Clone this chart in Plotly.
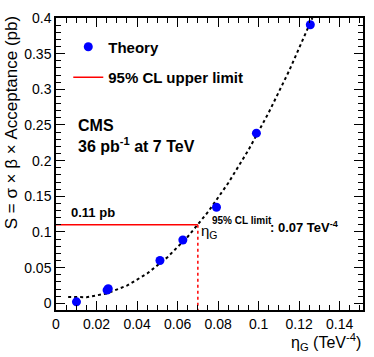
import plotly.graph_objects as go

# Theory points (eta_G in TeV^-4, S in pb)
theory_x = [0.0101, 0.0252, 0.0258, 0.0513, 0.0626, 0.0792, 0.0989, 0.1255]
theory_y = [0.002, 0.0185, 0.0205, 0.060, 0.0887, 0.1347, 0.2385, 0.3905]

# Dotted fit curve
fit_x = [0.006, 0.015, 0.025, 0.035, 0.045, 0.055, 0.065, 0.075, 0.085, 0.095, 0.105, 0.115, 0.1265]
fit_y = [0.0090, 0.0085, 0.0137, 0.0248, 0.0417, 0.0646, 0.0933, 0.1280, 0.1686, 0.2150, 0.2675, 0.3257, 0.4000]

# 95% CL upper limit on S and the matching eta_G limit
limit_s = 0.11
limit_eta = 0.07

x_ticks = [0, 0.02, 0.04, 0.06, 0.08, 0.1, 0.12, 0.14]
y_ticks = [0, 0.05, 0.1, 0.15, 0.2, 0.25, 0.3, 0.35, 0.4]
y_bottom = -0.0094

font = "Liberation Sans, Arial, Helvetica, sans-serif"

fig = go.Figure()

# fit curve
fig.add_trace(go.Scatter(
    x=fit_x, y=fit_y, mode="lines",
    line=dict(color="black", width=2, dash="dot"),
    showlegend=False, hoverinfo="skip",
))

# horizontal limit line (also the legend entry)
fig.add_trace(go.Scatter(
    x=[0, limit_eta], y=[limit_s, limit_s], mode="lines",
    line=dict(color="#ff0000", width=1.5),
    name="<b>95% CL upper limit</b>", legendgroup="b", legendrank=2,
))

# vertical dotted drop to the x axis
fig.add_trace(go.Scatter(
    x=[limit_eta, limit_eta], y=[limit_s, y_bottom], mode="lines",
    line=dict(color="#ff0000", width=1.5, dash="dot"),
    showlegend=False, hoverinfo="skip",
))

# theory markers
fig.add_trace(go.Scatter(
    x=theory_x, y=theory_y, mode="markers",
    marker=dict(color="#0000ff", size=9),
    name="<b>Theory</b>", legendgroup="a", legendrank=1,
))

axis_common = dict(
    showline=True, linecolor="black", linewidth=1.5, mirror="ticks",
    ticks="inside", ticklen=9, tickwidth=1, tickcolor="black",
    showgrid=False, zeroline=False,
    tickfont=dict(family=font, size=14, color="black"),
)

fig.update_xaxes(
    range=[0, 0.1515], tickvals=x_ticks,
    ticktext=[str(v) for v in x_ticks],
    minor=dict(ticks="inside", ticklen=5, dtick=0.005, tick0=0, tickcolor="black"),
    **axis_common,
)
fig.update_yaxes(
    range=[y_bottom, 0.4], tickvals=y_ticks,
    ticktext=[str(v) for v in y_ticks],
    minor=dict(ticks="inside", ticklen=5, dtick=0.01, tick0=0, tickcolor="black"),
    **axis_common,
)

annotations = [
    # y axis title, right-aligned to the top like ROOT
    dict(text="S = σ × β × Acceptance (pb)", xref="paper", yref="paper",
         x=-0.1456, y=1.017, xanchor="center", yanchor="top", textangle=-90,
         showarrow=False, font=dict(family=font, size=17, color="black")),
    # x axis title
    dict(text="η<sub>G</sub> (TeV<sup>-4</sup>)", xref="paper", yref="paper",
         x=1.0, y=-0.065, xanchor="right", yanchor="top",
         showarrow=False, font=dict(family=font, size=16, color="black")),
    dict(text="<b>CMS</b>", xref="paper", yref="paper", x=0.065, y=0.632,
         xanchor="left", yanchor="middle", showarrow=False,
         font=dict(family=font, size=16, color="black")),
    dict(text="<b>36 pb<sup>-1</sup> at 7 TeV</b>", xref="paper", yref="paper",
         x=0.065, y=0.565, xanchor="left", yanchor="middle", showarrow=False,
         font=dict(family=font, size=16, color="black")),
    dict(text="<b>%.2f pb</b>" % limit_s, xref="x", yref="paper",
         x=0.0065, y=0.333, xanchor="left", yanchor="middle", showarrow=False,
         font=dict(family=font, size=13, color="black")),
    dict(text="η<sub>G</sub>", xref="x", yref="paper",
         x=0.0705, y=0.27, xanchor="left", yanchor="middle", showarrow=False,
         font=dict(family=font, size=15, color="black")),
    dict(text="<b>95% CL limit</b>", xref="x", yref="paper",
         x=0.0758, y=0.305, xanchor="left", yanchor="middle", showarrow=False,
         font=dict(family=font, size=10, color="black")),
    dict(text="<b>: %.2f TeV<sup>-4</sup></b>" % limit_eta, xref="x", yref="paper",
         x=0.1045, y=0.285, xanchor="left", yanchor="middle", showarrow=False,
         font=dict(family=font, size=13, color="black")),
]

fig.update_layout(
    width=374, height=357,
    margin=dict(l=56, r=9, t=18, b=47),
    plot_bgcolor="white", paper_bgcolor="white",
    annotations=annotations,
    legend=dict(x=0.04, y=0.957, xanchor="left", yanchor="top",
                bgcolor="rgba(0,0,0,0)", tracegroupgap=8,
                font=dict(family=font, size=15, color="black")),
)

# drop the browser's default 8px body margin so the figure fills the window
fig.write_html("out.html", config={"displayModeBar": False},
               post_script="document.body.style.margin='0px';")
